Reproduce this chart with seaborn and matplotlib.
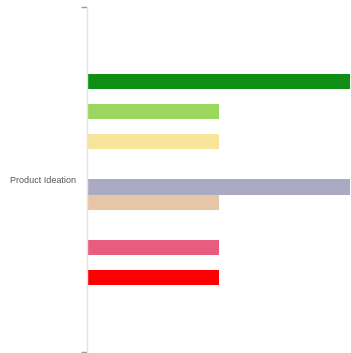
import matplotlib
matplotlib.use("Agg")
import matplotlib.pyplot as plt
import seaborn as sns
import pandas as pd

category = "Product Ideation"
series = [f"Series {i}" for i in range(1, 15)]
values = [2, 0, 1, 0, 1, 0, 0, 2, 1, 0, 0, 1, 0, 1]
colors = ["#0e8e12", "#ffffff", "#9bd65e", "#ffffff", "#f7e59c", "#ffffff", "#ffffff",
          "#aaaac2", "#e6c6a6", "#ffffff", "#ffffff", "#e85d7f", "#ffffff", "#ff0000"]

sns.set_style("white")
plt.rcParams['font.family'] = ['Liberation Sans', 'DejaVu Sans']

df = pd.DataFrame({"cat": [category] * len(series), "series": series, "value": values})

fig = plt.figure(figsize=(3.51, 3.53), dpi=100)
ax = fig.add_axes([87 / 351, 1 / 353, 263 / 351, 345 / 353])
sns.barplot(data=df, x="value", y="cat", hue="series", hue_order=series,
            palette=dict(zip(series, colors)), orient="h", width=0.609,
            saturation=1, linewidth=0, legend=False, ax=ax)
ax.set_xlim(0, 2)
ax.set_ylim(0.5, -0.5)
ax.set_xlabel("")
ax.set_ylabel("")
ax.set_xticks([])
ax.set_yticks([0])
ax.set_yticklabels([category], fontsize=6.5, color="#555555")
ax.tick_params(axis="y", which="major", left=True, length=0, pad=8)
ax.set_yticks([-0.5, 0.5], minor=True)
ax.tick_params(axis="y", which="minor", left=True, length=4, width=1, color="#999999")
for s in ["top", "right", "bottom"]:
    ax.spines[s].set_visible(False)
ax.spines["left"].set_color("#e3e3e3")
ax.spines["left"].set_linewidth(1)

fig.savefig("out.png", dpi=100)
